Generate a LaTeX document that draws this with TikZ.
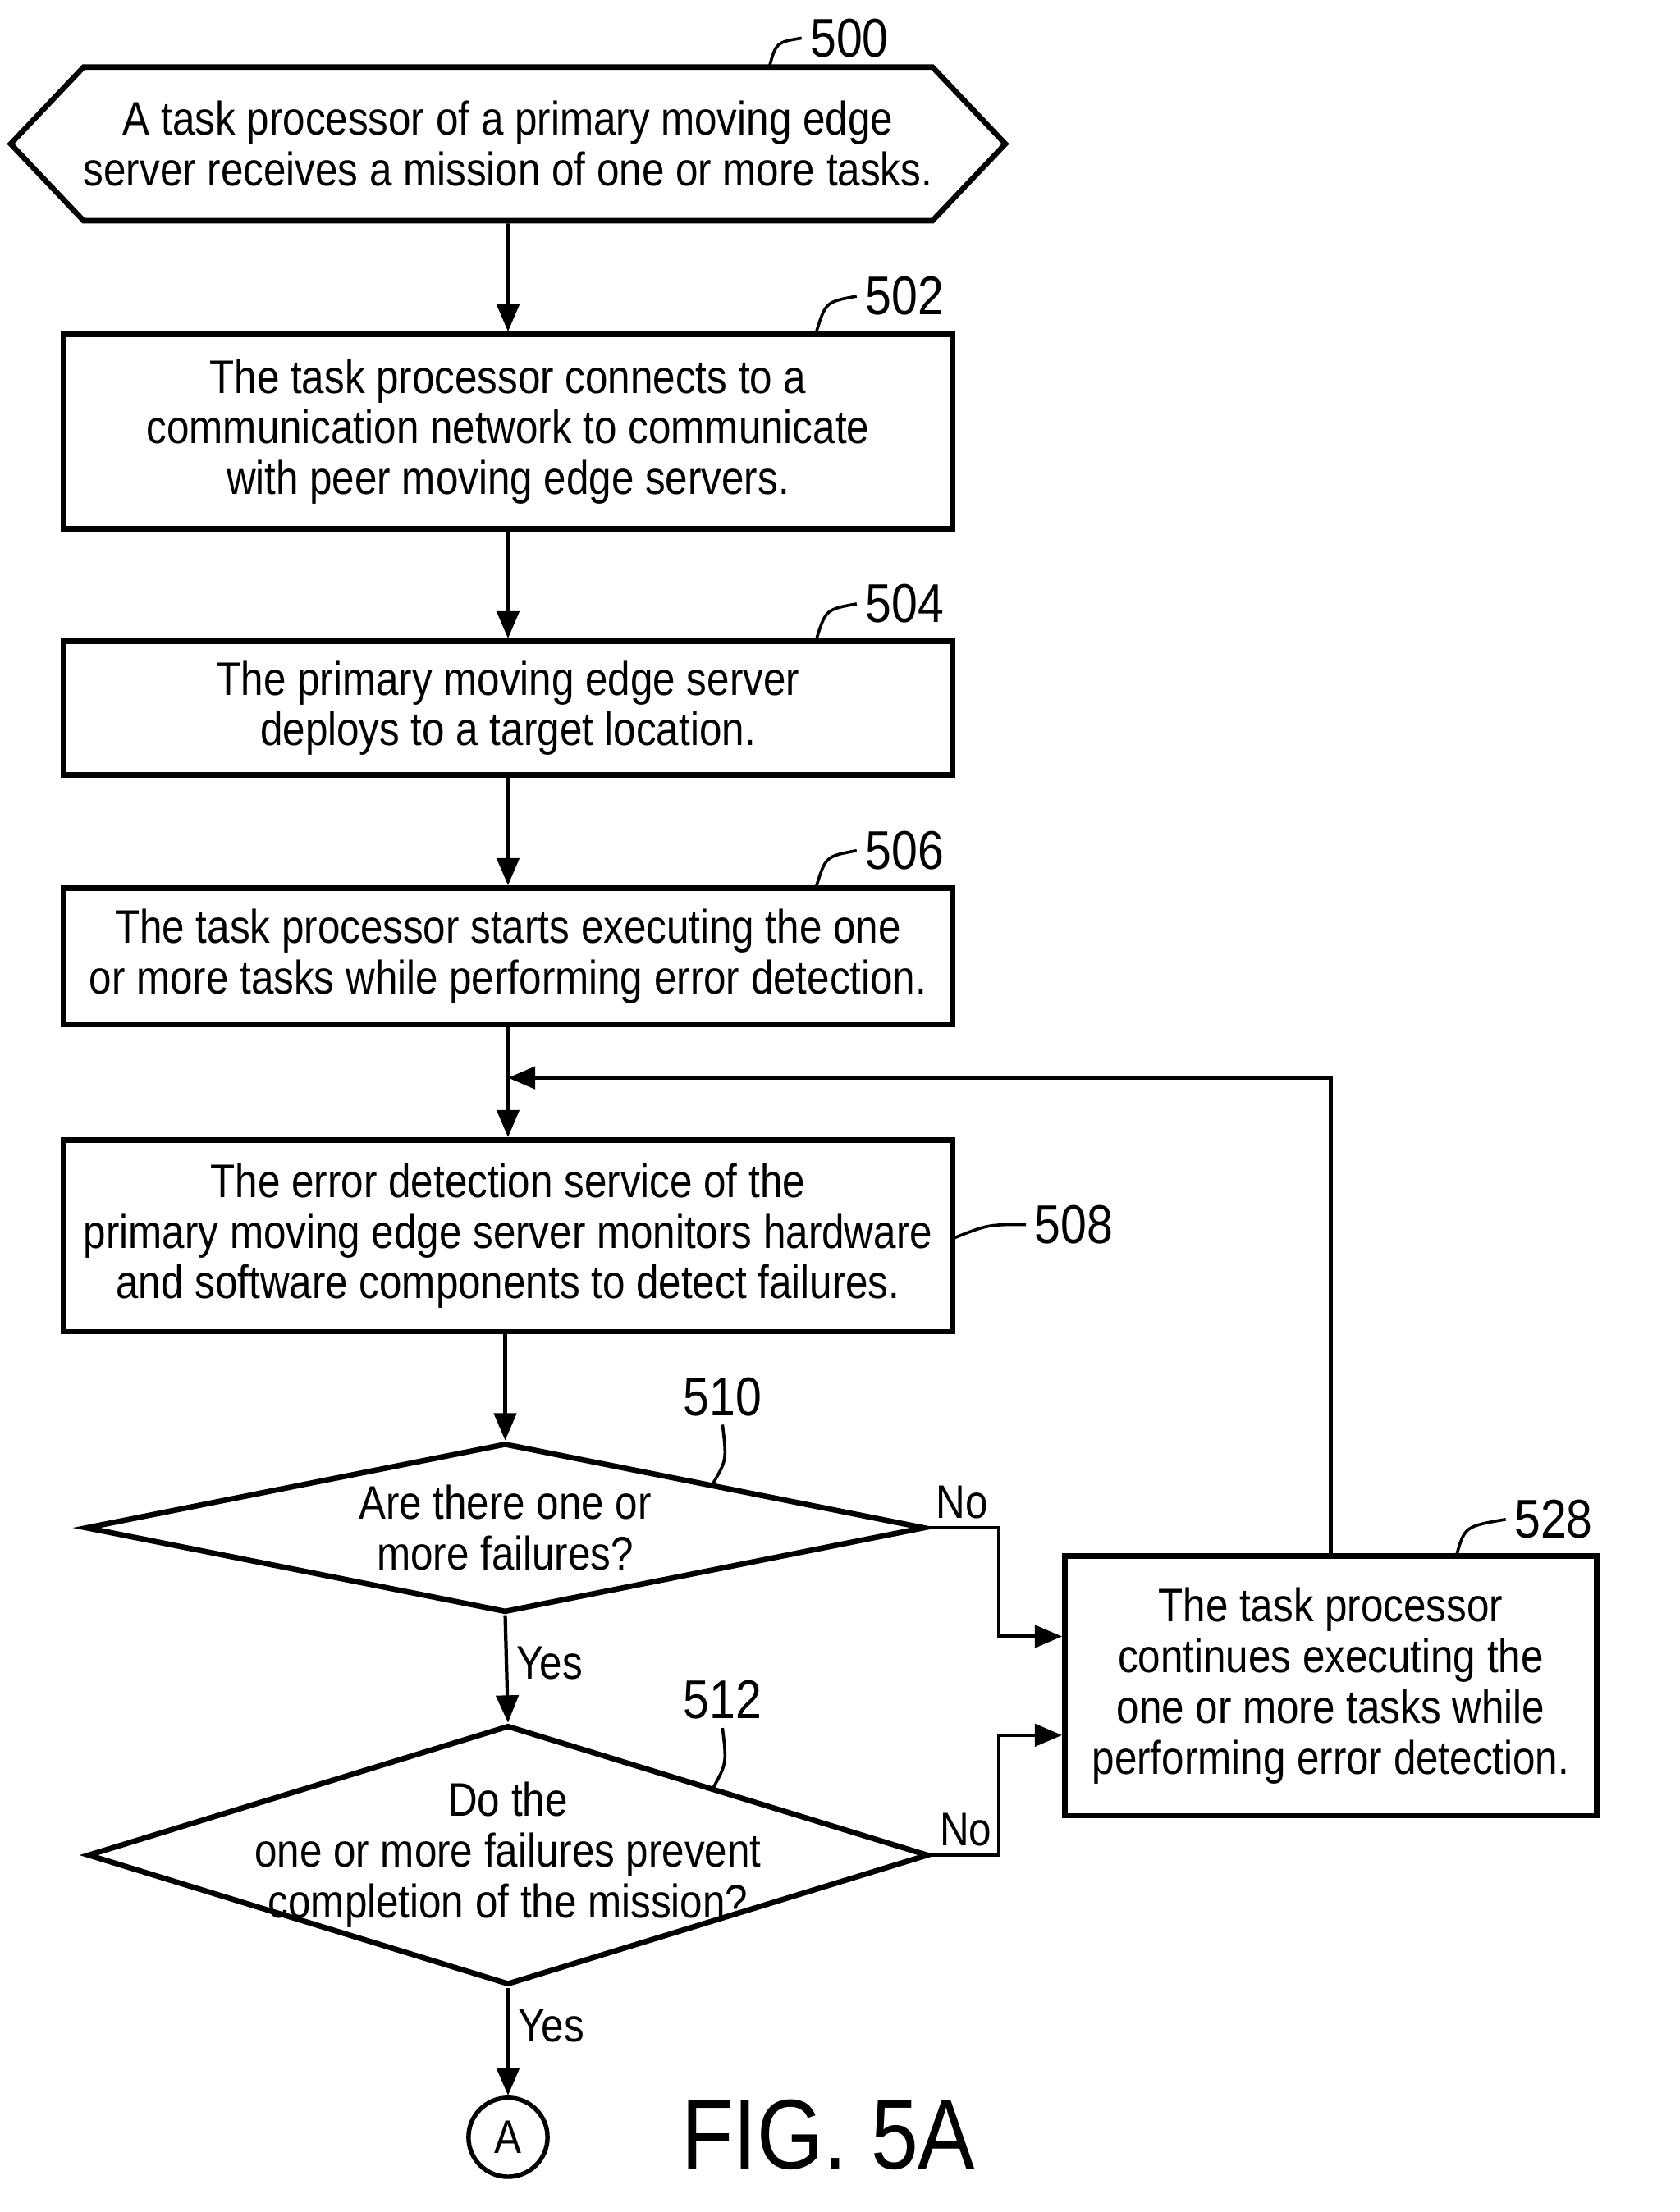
\documentclass[tikz,border=0pt]{standalone}
\usepackage{fontspec}
\setmainfont{Liberation Sans}[FakeStretch=0.86]
\usetikzlibrary{shapes.geometric,shapes.symbols,arrows.meta,positioning}

\begin{document}
\begin{tikzpicture}[x=0.02cm, y=-0.02cm, font=\fontsize{19}{20.5}\selectfont]
    \tikzstyle{flow-step}=[rectangle, draw, line width=2.2pt, minimum width=12.6cm, inner sep=0pt, align=center]
    \tikzstyle{choice}=[diamond, draw, line width=2.2pt, inner sep=0pt]
    \tikzstyle{fleche}=[-{Triangle[length=11pt,width=9pt]}, line width=1.4pt]
    \tikzstyle{ref}=[font=\fontsize{22}{24}\selectfont]
    \tikzstyle{leader}=[line width=1.2pt]

    \useasboundingbox (0,0) rectangle (1190,1568);

    \node[signal, signal to=west and east, signal pointer angle=93, draw, line width=2.2pt, minimum width=13.92cm, minimum height=2.18cm, inner sep=0pt, align=center] (start) at (360,102) {A task processor of a primary moving edge\\server receives a mission of one or more tasks.};
    \node[flow-step, minimum height=2.76cm] (connect) at (360,306) {The task processor connects to a\\communication network to communicate\\with peer moving edge servers.};
    \node[flow-step, minimum height=1.9cm] (deploy) at (360,502) {The primary moving edge server\\deploys to a target location.};
    \node[flow-step, minimum height=1.94cm] (execute) at (360,678) {The task processor starts executing the one\\or more tasks while performing error detection.};
    \node[flow-step, minimum height=2.72cm] (monitor) at (360,876) {The error detection service of the\\primary moving edge server monitors hardware\\and software components to detect failures.};
    \node[choice, minimum width=11.9cm, minimum height=2.4cm, aspect=4.96, label={[align=center]center:Are there one or\\more failures?}] (failures) at (358,1083) {};
    \node[choice, minimum width=11.92cm, minimum height=3.68cm, aspect=3.24, label={[align=center]center:Do the\\one or more failures prevent\\completion of the mission?}] (prevent) at (360,1315) {};
    \node[rectangle, draw, line width=2.2pt, minimum width=7.54cm, minimum height=3.68cm, inner sep=0pt, align=center] (continue) at (943,1195) {The task processor\\continues executing the\\one or more tasks while\\performing error detection.};
    \node[circle, draw, line width=1.8pt, minimum size=1.12cm, inner sep=0pt] (conn-a) at (360,1515) {A};
    \node[font=\fontsize{40}{44}\selectfont] (fig) at (587,1513) {FIG. 5A};

    % references
    \node[ref] (r500) at (602,27) {500};
    \node[ref] (r502) at (641,210) {502};
    \node[ref] (r504) at (641,428) {504};
    \node[ref] (r506) at (641,603) {506};
    \node[ref] (r508) at (761,868) {508};
    \node[ref] (r510) at (512,990) {510};
    \node[ref] (r512) at (512,1205) {512};
    \node[ref] (r528) at (1101,1077) {528};
    \draw[leader] (545,48) .. controls (550,30) .. (r500.west);
    \draw[leader] (578,237) .. controls (585,214) .. (r502.west);
    \draw[leader] (578,455) .. controls (585,432) .. (r504.west);
    \draw[leader] (578,630) .. controls (585,607) .. (r506.west);
    \draw[leader] (675,878) .. controls (700,868) .. (r508.west);
    \draw[leader] (505,1052) .. controls (515,1035) .. (r510.south);
    \draw[leader] (505,1268) .. controls (515,1250) .. (r512.south);
    \draw[leader] (1032,1103) .. controls (1038,1082) .. (r528.west);

    % flow
    \draw[fleche] (start) -- (connect);
    \draw[fleche] (connect) -- (deploy);
    \draw[fleche] (deploy) -- (execute);
    \draw[fleche] (execute) -- (monitor);
    \draw[fleche] (monitor.south -| failures.north) -- (failures.north);
    \draw[fleche] (failures.south) -- node[right, pos=0.45] {Yes} (prevent.north);
    \draw[fleche] (prevent.south) -- node[right, pos=0.35] {Yes} (conn-a);
    \coordinate (no1) at (708,1083);
    \coordinate (no2) at (708,1315);
    \draw[fleche] (failures.east) -- (no1) |- (continue.west |- 0,1160);
    \draw[fleche] (prevent.east) -- (no2) |- (continue.west |- 0,1230);
    \node[above right=0pt and 0pt] at (failures.east) {No};
    \node[above right=0pt and 0pt] at (prevent.east) {No};
    \draw[fleche] (continue.north) |- (360,764);
\end{tikzpicture}
\end{document}
